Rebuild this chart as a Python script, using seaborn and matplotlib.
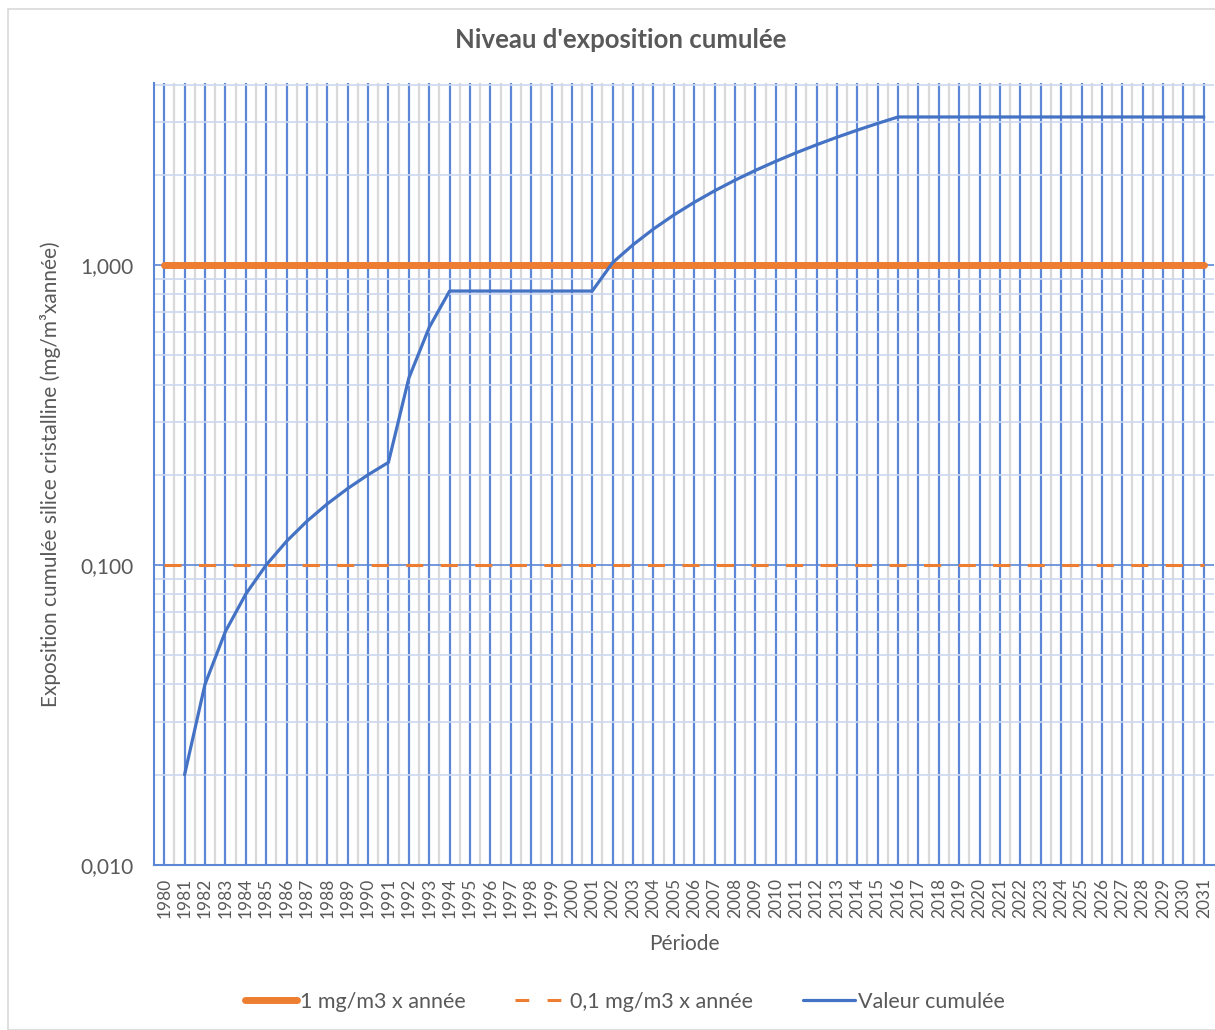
import matplotlib
matplotlib.use("Agg")
import matplotlib.pyplot as plt
import matplotlib.ticker as mticker
from matplotlib.lines import Line2D
from matplotlib.patches import Rectangle
import seaborn as sns
import pandas as pd
import numpy as np

# Données
annees = list(range(1980, 2032))
valeur_cumulee = [np.nan, 0.02, 0.04, 0.06, 0.08, 0.10, 0.12, 0.14, 0.16, 0.18,
                  0.20, 0.22, 0.42, 0.62, 0.82, 0.82, 0.82, 0.82, 0.82, 0.82,
                  0.82, 0.82, 1.02, 1.17, 1.32, 1.47, 1.62, 1.77, 1.92, 2.07,
                  2.22, 2.37, 2.52, 2.67, 2.82, 2.97, 3.12, 3.12, 3.12, 3.12,
                  3.12, 3.12, 3.12, 3.12, 3.12, 3.12, 3.12, 3.12, 3.12, 3.12,
                  3.12, 3.12]
seuil_1 = [1.0] * len(annees)
seuil_01 = [0.1] * len(annees)
yticks = [0.01, 0.1, 1.0]
ytick_labels = ["0,010", "0,100", "1,000"]

df = pd.DataFrame({"annee": annees, "valeur": valeur_cumulee,
                   "s1": seuil_1, "s01": seuil_01})

ORANGE = "#ED7D31"
BLEU = "#4472C4"
GRILLE_BLEU = "#5B87D6"
GRIS = "#D9D9D9"
TEXTE = "#595959"

sns.set_style("white")
plt.rcParams["font.family"] = ["Lato", "DejaVu Sans"]

fig = plt.figure(figsize=(12.15, 10.30), dpi=100)
ax = fig.add_axes([154 / 1215, 1 - 865 / 1030, 1060 / 1215, 782 / 1030])

sns.lineplot(data=df, x="annee", y="s1", ax=ax, color=ORANGE, lw=5,
             solid_capstyle="round", zorder=3)
sns.lineplot(data=df, x="annee", y="s01", ax=ax, color=ORANGE, lw=2.2,
             zorder=3)
ax.lines[-1].set_dashes([5.6, 5.7])
sns.lineplot(data=df, x="annee", y="valeur", ax=ax, color=BLEU, lw=2.3,
             zorder=4)

ax.set_yscale("log")
ax.set_ylim(0.01, 4.05)
ax.set_xlim(1979.5, 2031.5)

ax.yaxis.set_major_locator(mticker.FixedLocator(yticks))
ax.yaxis.set_major_formatter(mticker.FixedFormatter(ytick_labels))
ax.yaxis.set_minor_locator(mticker.LogLocator(subs=np.arange(2, 10)))
ax.yaxis.set_minor_formatter(mticker.NullFormatter())

ax.set_xticks(annees)
ax.set_xticklabels([str(a) for a in annees], rotation=90)
ax.set_xticks([a + 0.5 for a in annees[:-1]], minor=True)

ax.set_axisbelow(True)
ax.grid(which="major", axis="x", color=GRILLE_BLEU, lw=1.6)
ax.grid(which="minor", axis="x", color=GRIS, lw=1.6)
ax.grid(which="major", axis="y", color=GRILLE_BLEU, lw=1.2)
ax.grid(which="minor", axis="y", color="#CCD8F0", lw=1.2)

ax.tick_params(axis="both", which="both", length=0)
ax.tick_params(axis="y", labelsize=15, labelcolor=TEXTE, pad=15)
ax.tick_params(axis="x", labelsize=12.5, labelcolor=TEXTE, pad=9)

for s in ["top", "right"]:
    ax.spines[s].set_visible(False)
for s in ["left", "bottom"]:
    ax.spines[s].set_color(GRILLE_BLEU)
    ax.spines[s].set_linewidth(1.5)

ax.set_xlabel("Période", fontsize=15, color=TEXTE)
ax.set_ylabel("Exposition cumulée silice cristalline (mg/m³xannée)",
              fontsize=15, color=TEXTE)
ax.xaxis.set_label_coords(0.5, -0.088)
ax.yaxis.set_label_coords(-0.088, 0.5)

fig.text(621 / 1215, 1 - 40 / 1030, "Niveau d'exposition cumulée",
         ha="center", va="center", fontsize=18.5, fontweight="bold",
         color=TEXTE)

handles = [
    Line2D([], [], color=ORANGE, lw=5, solid_capstyle="round"),
    Line2D([], [], color=ORANGE, lw=2.2, dashes=[4.5, 6]),
    Line2D([], [], color=BLEU, lw=2.3),
]
labels = ["1 mg/m3 x année", "0,1 mg/m3 x année", "Valeur cumulée"]
fig.legend(handles, labels, loc="center", ncol=3, frameon=False,
           bbox_to_anchor=(625 / 1215, 1 - 1002 / 1030), fontsize=15.5,
           handlelength=2.4, handletextpad=0.15, columnspacing=2.3,
           labelcolor=TEXTE)

fig.patches.append(Rectangle((8 / 1215, 0), 1.0, 1 - 9 / 1030,
                             transform=fig.transFigure, fill=False,
                             edgecolor=GRIS, lw=1.2))

fig.savefig("out.png", dpi=100)
